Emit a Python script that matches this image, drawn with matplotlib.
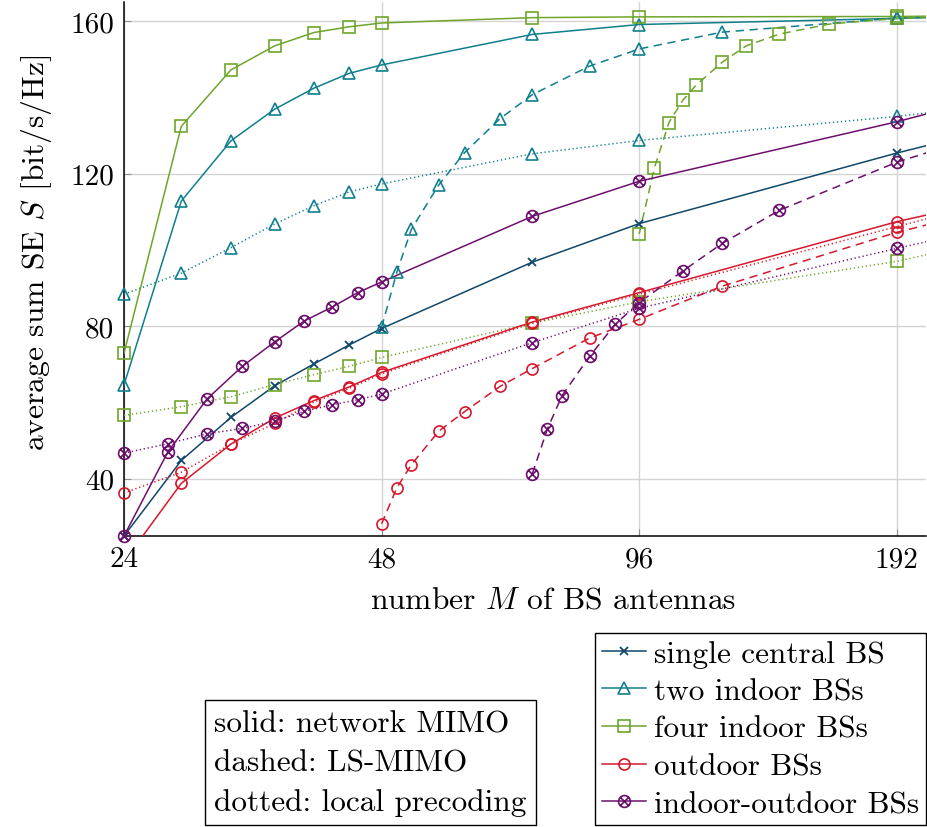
import matplotlib
matplotlib.use("Agg")
import matplotlib.pyplot as plt
from matplotlib.lines import Line2D
from matplotlib.path import Path
from matplotlib.ticker import FixedLocator, FixedFormatter, NullLocator

# ---------------- data ----------------
M_net = [24, 28, 32, 36, 40, 44, 48, 72, 96, 192, 256]
M_io = [24, 27, 30, 33, 36, 39, 42, 45, 48, 72, 96, 192, 256]

single_net = [25.0, 44.8, 56.1, 64.4, 70.1, 75.1, 79.4, 96.8, 106.9, 125.4, 132.4]
two_net = [64.6, 112.8, 128.6, 136.9, 142.4, 146.3, 148.5, 156.5, 159.1, 160.7, 161.4]
two_loc = [88.4, 93.9, 100.6, 106.8, 111.6, 115.2, 117.3, 125.2, 128.7, 135.0, 138.3]
four_net = [72.9, 132.4, 147.2, 153.5, 157.0, 158.5, 159.5, 160.9, 161.1, 161.2, 161.5]
four_loc = [56.6, 58.9, 61.5, 64.7, 67.3, 69.5, 71.8, 80.8, 86.4, 97.0, 103.3]
out_net = [18.3, 38.8, 49.1, 55.9, 60.5, 64.1, 67.9, 81.1, 88.8, 107.4, 113.7]
out_loc = [36.3, 41.7, 49.1, 54.5, 60.1, 63.7, 67.5, 80.8, 88.4, 106.1, 113.5]
io_net = [25.0, 47.0, 60.9, 69.5, 75.9, 81.4, 85.0, 88.8, 91.6, 108.8, 118.0, 133.6, 141.0]
io_loc = [46.7, 49.2, 51.8, 53.2, 55.1, 57.7, 59.4, 60.7, 62.2, 75.7, 84.7, 100.4, 106.7]

M_ls_two = [48, 50, 52, 56, 60, 66, 72, 84, 96, 120, 192, 256]
two_ls = [79.7, 94.1, 105.4, 117.1, 125.5, 134.4, 140.7, 148.2, 152.7, 157.1, 160.8, 161.5]
M_ls_out = [48, 50, 52, 56, 60, 66, 72, 84, 96, 120, 192, 256]
out_ls = [28.2, 37.6, 43.7, 52.5, 57.6, 64.2, 68.9, 76.9, 81.8, 90.5, 104.6, 111.6]
M_ls_io = [72, 75, 78, 84, 90, 96, 108, 120, 140, 192, 256]
io_ls = [41.3, 53.1, 61.8, 72.1, 80.5, 86.2, 94.5, 101.7, 110.4, 123.0, 131.8]
M_ls_four = [96, 100, 104, 108, 112, 120, 128, 140, 160, 192, 256]
four_ls = [104.2, 121.5, 133.4, 139.3, 143.3, 149.2, 153.5, 156.6, 159.2, 160.7, 161.6]

x_ticks = [24, 48, 96, 192]
y_ticks = [40, 80, 120, 160]
legend_labels = ["single central BS", "two indoor BSs", "four indoor BSs",
                 "outdoor BSs", "indoor-outdoor BSs"]
style_labels = ["solid: network MIMO", "dashed: LS-MIMO", "dotted: local precoding"]

# ---------------- style ----------------
plt.rcParams['font.family'] = ['cmr10', 'DejaVu Serif']
plt.rcParams['mathtext.fontset'] = 'cm'
plt.rcParams['axes.formatter.use_mathtext'] = True
plt.rcParams['lines.scale_dashes'] = False
FS_TICK = 21
FS_LAB = 22.7
FS_LEG = 22.5

c_single = '#10486b'
c_two = '#0f7f8e'
c_four = '#6ea52a'
c_out = '#d6182c'
c_io = '#6d106d'

d = 0.7071
otimes = Path.make_compound_path(
    Path.unit_circle(),
    Path([[-d, -d], [d, d], [-d, d], [d, -d]],
         [Path.MOVETO, Path.LINETO, Path.MOVETO, Path.LINETO]))

mk = {
    'single': dict(marker='x', ms=6, mew=1.3),
    'two': dict(marker='^', ms=8.5, mew=1.2),
    'four': dict(marker='s', ms=8, mew=1.2),
    'out': dict(marker='o', ms=8, mew=1.2),
    'io': dict(marker=otimes, ms=8.5, mew=1.2),
}
LW = 1.1
DASH = (0, (6.0, 4.0))
DOT = (0, (0.9, 2.0))

W, H = 927, 828
fig = plt.figure(figsize=(W / 100, H / 100), dpi=100)
ax_l, ax_r, ax_t, ax_b = 124, 926, 3, 537
ax = fig.add_axes([ax_l / W, 1 - ax_b / H, (ax_r - ax_l) / W, (ax_b - ax_t) / H])

ax.set_xscale('log', base=2)
xmin, xmax = 24, 24 * 2 ** ((ax_r - ax_l) / 257.6)
ymin, ymax = 25.0, 165.0
ax.set_xlim(xmin, xmax)
ax.set_ylim(ymin, ymax)


def draw(x, y, color, key, ls):
    ax.plot(x, y, color=color, lw=LW, linestyle=ls, zorder=3)
    xs = [a for a, b in zip(x, y) if xmin - 1e-9 <= a <= xmax and ymin - 0.5 <= b <= ymax]
    ys = [b for a, b in zip(x, y) if xmin - 1e-9 <= a <= xmax and ymin - 0.5 <= b <= ymax]
    ax.plot(xs, ys, color=color, linestyle='none', mfc='none', mec=color,
            clip_on=False, zorder=4, **mk[key])


draw(M_net, single_net, c_single, 'single', '-')
draw(M_net, two_net, c_two, 'two', '-')
draw(M_net, two_loc, c_two, 'two', DOT)
draw(M_ls_two, two_ls, c_two, 'two', DASH)
draw(M_net, four_net, c_four, 'four', '-')
draw(M_net, four_loc, c_four, 'four', DOT)
draw(M_ls_four, four_ls, c_four, 'four', DASH)
draw(M_net, out_net, c_out, 'out', '-')
draw(M_net, out_loc, c_out, 'out', DOT)
draw(M_ls_out, out_ls, c_out, 'out', DASH)
draw(M_io, io_net, c_io, 'io', '-')
draw(M_io, io_loc, c_io, 'io', DOT)
draw(M_ls_io, io_ls, c_io, 'io', DASH)

ax.xaxis.set_major_locator(FixedLocator(x_ticks))
ax.xaxis.set_major_formatter(FixedFormatter([str(t) for t in x_ticks]))
ax.xaxis.set_minor_locator(NullLocator())
ax.set_yticks(y_ticks)
ax.set_yticklabels([str(t) for t in y_ticks])
ax.tick_params(direction='in', length=5, width=0.8, color='#909090',
               labelsize=FS_TICK, pad=7)
ax.grid(True, color='#d4d4d4', lw=1.0, zorder=0)
ax.set_axisbelow(True)
for s in ['top', 'right']:
    ax.spines[s].set_visible(False)
for s in ['left', 'bottom']:
    ax.spines[s].set_linewidth(1.1)
    ax.spines[s].set_zorder(2.5)

ax.set_xlabel('number $M$ of BS antennas', fontsize=FS_LAB)
ax.xaxis.set_label_coords((553 - ax_l) / (ax_r - ax_l), -(587 - ax_b) / (ax_b - ax_t))
ax.set_ylabel('average sum SE $S$ [bit/s/Hz]', fontsize=FS_LAB)
ax.yaxis.set_label_coords(-(ax_l - 54) / (ax_r - ax_l), (ax_b - 253) / (ax_b - ax_t))

handles = [
    Line2D([], [], color=c_single, lw=LW, mfc='none', **mk['single']),
    Line2D([], [], color=c_two, lw=LW, mfc='none', **mk['two']),
    Line2D([], [], color=c_four, lw=LW, mfc='none', **mk['four']),
    Line2D([], [], color=c_out, lw=LW, mfc='none', **mk['out']),
    Line2D([], [], color=c_io, lw=LW, mfc='none', **mk['io']),
]
leg1 = fig.legend(handles, legend_labels, loc='lower right',
                  bbox_to_anchor=(926 / W, 1 - 826 / H), fontsize=FS_LEG,
                  fancybox=False, framealpha=1, edgecolor='black',
                  handlelength=1.4, handletextpad=0.25, borderpad=0.22,
                  labelspacing=0.31, borderaxespad=0)
leg1.get_frame().set_linewidth(1.0)

blank = [Line2D([], [], linestyle='none') for _ in style_labels]
leg2 = fig.legend(blank, style_labels, loc='lower left',
                  bbox_to_anchor=(205 / W, 1 - 826 / H), fontsize=FS_LEG,
                  fancybox=False, framealpha=1, edgecolor='black',
                  handlelength=0, handletextpad=0, borderpad=0.3,
                  labelspacing=0.36, borderaxespad=0)
leg2.get_frame().set_linewidth(1.0)

fig.savefig('out.png', dpi=100)
